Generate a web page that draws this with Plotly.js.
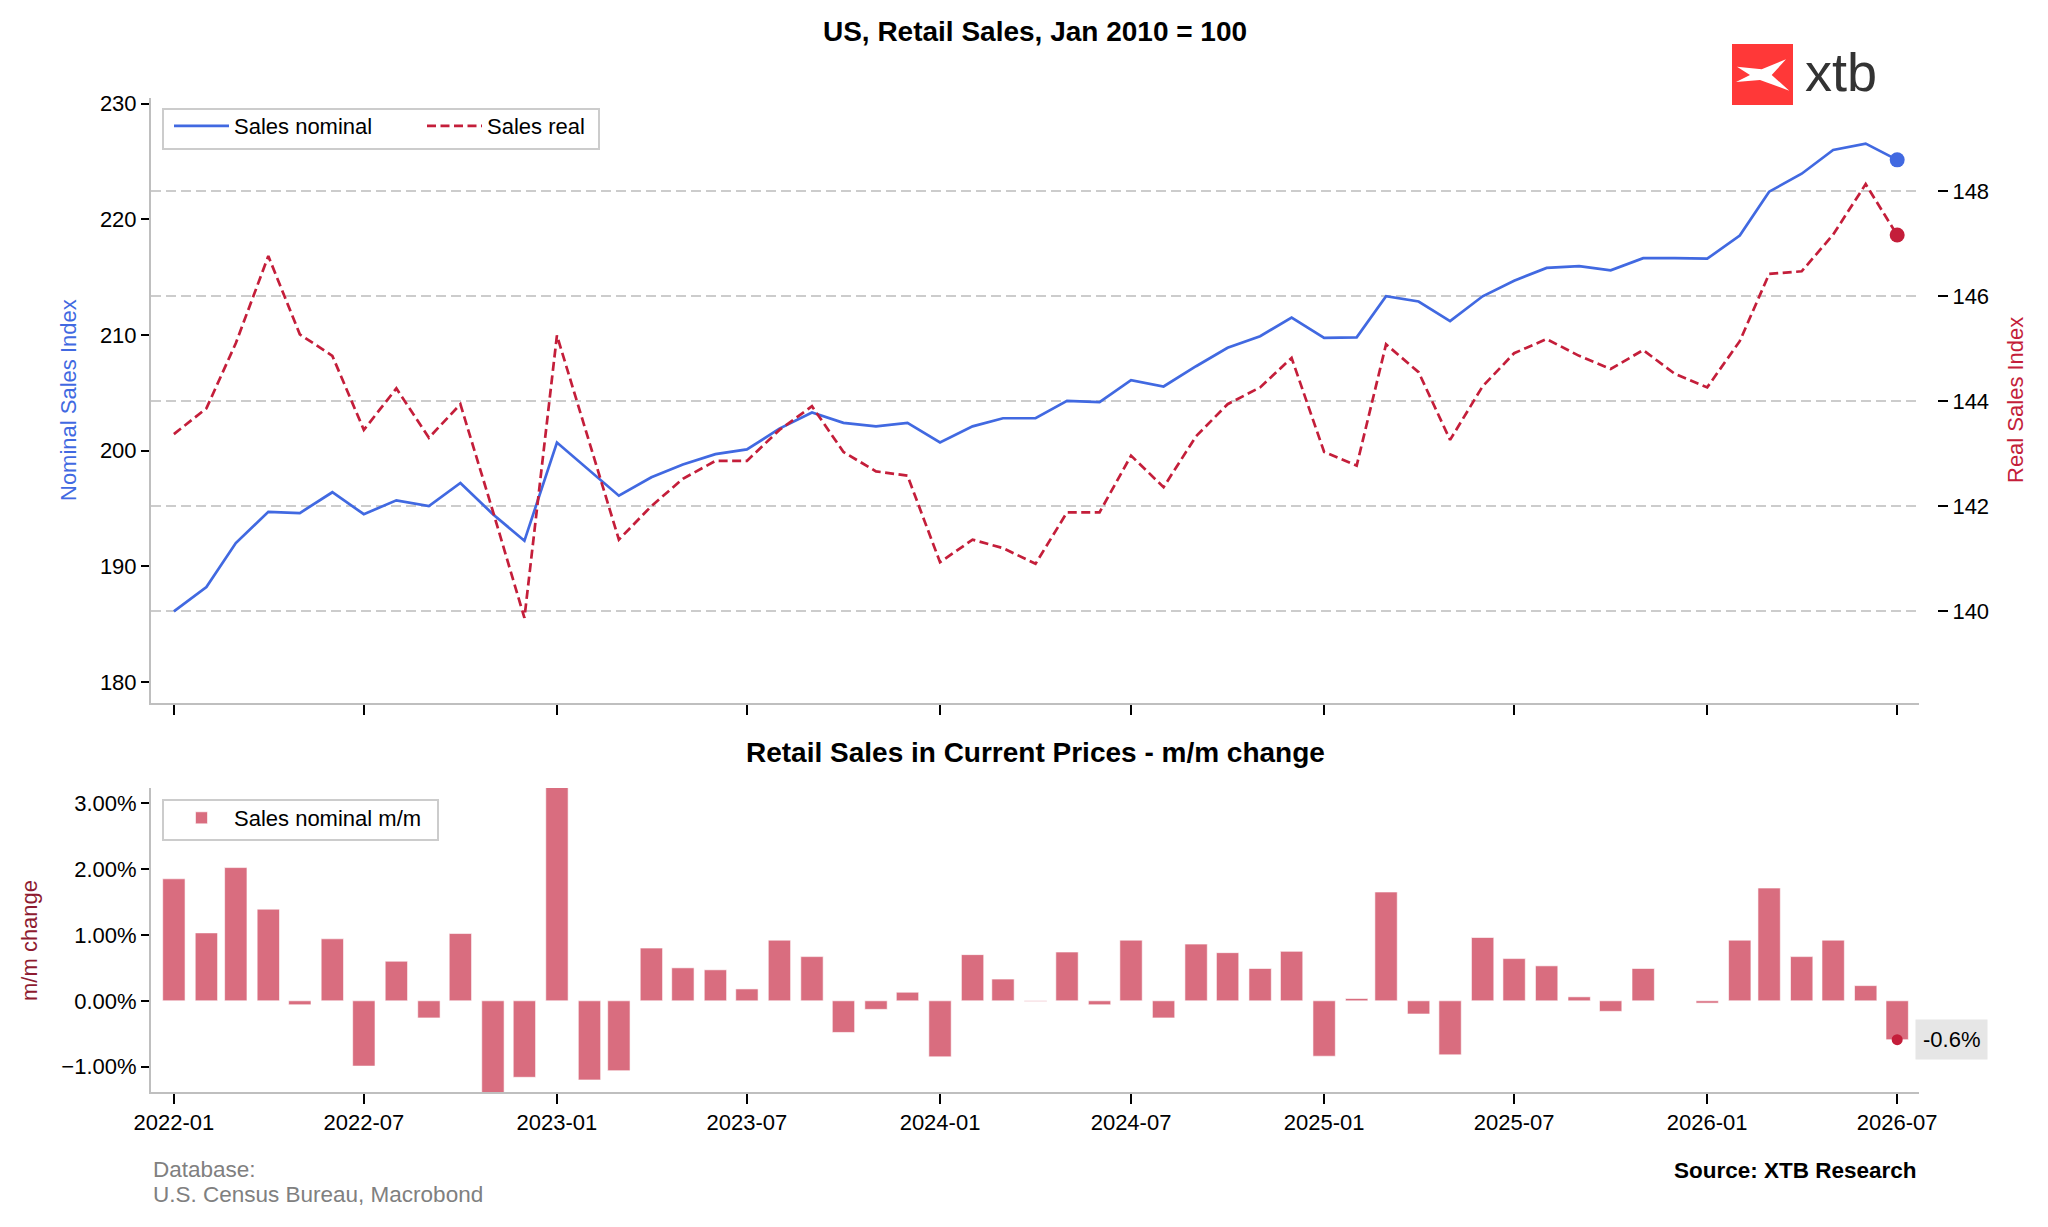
<!DOCTYPE html>
<html>
<head>
<meta charset="utf-8">
<script src="https://cdn.plot.ly/plotly-3.0.1.min.js"></script>
<style>
  body { margin: 0; background: #fff; }
  #chart { width: 2048px; height: 1227px; }
</style>
</head>
<body>
<div id="chart"></div>
<script>
// monthly observations
var months = [
  '2022-01-01','2022-02-01','2022-03-01','2022-04-01','2022-05-01','2022-06-01',
  '2022-07-01','2022-08-01','2022-09-01','2022-10-01','2022-11-01','2022-12-01',
  '2023-01-01','2023-02-01','2023-03-01','2023-04-01','2023-05-01','2023-06-01',
  '2023-07-01','2023-08-01','2023-09-01','2023-10-01','2023-11-01','2023-12-01',
  '2024-01-01','2024-02-01','2024-03-01','2024-04-01','2024-05-01','2024-06-01',
  '2024-07-01','2024-08-01','2024-09-01','2024-10-01','2024-11-01','2024-12-01',
  '2025-01-01','2025-02-01','2025-03-01','2025-04-01','2025-05-01','2025-06-01',
  '2025-07-01','2025-08-01','2025-09-01','2025-10-01','2025-11-01','2025-12-01',
  '2026-01-01','2026-02-01','2026-03-01','2026-04-01','2026-05-01','2026-06-01',
  '2026-07-01'
];

// nominal sales index (left axis)
var salesNominal = [
  186.1, 188.2, 192.0, 194.7, 194.6, 196.4, 194.5, 195.7, 195.2, 197.2,
  194.5, 192.2, 200.7, 198.3, 196.1, 197.7, 198.8, 199.7, 200.1, 201.9,
  203.3, 202.4, 202.1, 202.4, 200.7, 202.1, 202.8, 202.8, 204.3, 204.2,
  206.1, 205.55, 207.3, 208.9, 209.9, 211.5, 209.75, 209.8, 213.35, 212.9,
  211.2, 213.35, 214.7, 215.8, 215.95, 215.6, 216.65, 216.65, 216.6, 218.6,
  222.4, 223.95, 226.0, 226.55, 225.15
];

// real sales index (right axis)
var salesReal = [
  143.37, 143.86, 145.1, 146.76, 145.27, 144.86, 143.45, 144.24, 143.3, 143.94,
  141.9, 139.87, 145.25, 143.2, 141.36, 142.0, 142.52, 142.86, 142.86, 143.45,
  143.9, 143.03, 142.66, 142.58, 140.93, 141.36, 141.2, 140.9, 141.88, 141.88,
  142.96, 142.36, 143.33, 143.94, 144.26, 144.82, 143.03, 142.77, 145.08, 144.55,
  143.26, 144.28, 144.91, 145.18, 144.86, 144.61, 144.97, 144.52, 144.26, 145.14,
  146.42, 146.47, 147.17, 148.13, 147.16
];

// nominal m/m change, %
var nominalMoM = [
  1.85, 1.03, 2.02, 1.39, -0.06, 0.94, -0.99, 0.60, -0.26, 1.02,
  -1.45, -1.16, 3.4, -1.20, -1.06, 0.80, 0.50, 0.47, 0.18, 0.92,
  0.67, -0.48, -0.13, 0.13, -0.85, 0.70, 0.33, -0.01, 0.74, -0.06,
  0.92, -0.26, 0.86, 0.73, 0.49, 0.75, -0.84, 0.035, 1.65, -0.20,
  -0.82, 0.96, 0.64, 0.53, 0.06, -0.16, 0.49, 0.0, -0.035, 0.92,
  1.71, 0.67, 0.92, 0.23, -0.59
];

var last = months.length - 1;

var BLUE = '#4169E1';
var RED = '#C41E3A';
var FONT = 'Liberation Sans, Arial, sans-serif';

// pixel -> paper helpers (plot area 151..1919 x 98..1092)
var L = 151, R = 1919, T = 98, B = 1092;
function px(x) { return (x - L) / (R - L); }
function py(y) { return (B - y) / (B - T); }

var xRange = ['2021-12-10 05:00', '2026-07-21 19:00'];

var data = [
  {
    x: months, y: salesNominal, type: 'scatter', mode: 'lines',
    name: 'Sales nominal', xaxis: 'x', yaxis: 'y', legend: 'legend',
    line: {color: BLUE, width: 2.7}
  },
  {
    x: months, y: salesReal, type: 'scatter', mode: 'lines',
    name: 'Sales real', xaxis: 'x', yaxis: 'y2', legend: 'legend3',
    line: {color: RED, width: 2.7, dash: '9px,4.5px'}
  },
  {
    x: [months[last]], y: [salesNominal[last]], type: 'scatter', mode: 'markers',
    xaxis: 'x', yaxis: 'y', showlegend: false, cliponaxis: false,
    marker: {color: BLUE, size: 15}
  },
  {
    x: [months[last]], y: [salesReal[last]], type: 'scatter', mode: 'markers',
    xaxis: 'x', yaxis: 'y2', showlegend: false, cliponaxis: false,
    marker: {color: RED, size: 15}
  },
  {
    x: months, y: nominalMoM, type: 'bar', name: 'Sales nominal m/m',
    xaxis: 'x2', yaxis: 'y3', legend: 'legend2',
    width: 21.3 * 86400000,
    marker: {color: 'rgba(196,30,58,0.65)', line: {color: 'rgba(255,255,255,0.6)', width: 1}}
  },
  {
    x: [months[last]], y: [nominalMoM[last]], type: 'scatter', mode: 'markers',
    xaxis: 'x2', yaxis: 'y3', showlegend: false, cliponaxis: false,
    marker: {color: RED, size: 11}
  }
];

var tickFont = {family: FONT, size: 22, color: '#000'};
var spine = '#bfbfbf';

function legendAt(x, y) {
  return {
    orientation: 'h', x: px(x), y: py(y), xanchor: 'left', yanchor: 'top',
    bgcolor: 'rgba(0,0,0,0)', borderwidth: 0, itemwidth: 55,
    font: {family: FONT, size: 22, color: '#000'}
  };
}

var layout = {
  width: 2048, height: 1227,
  paper_bgcolor: '#fff', plot_bgcolor: '#fff',
  font: {family: FONT, size: 22, color: '#000'},
  margin: {l: L, r: 2048 - R, t: T, b: 1227 - B, pad: 0},
  showlegend: true,
  title: {
    text: '<b>US, Retail Sales, Jan 2010 = 100</b>',
    font: {family: FONT, size: 28, color: '#000'},
    x: 0.5, xref: 'paper', xanchor: 'center',
    y: 1 - 31 / 1227, yref: 'container', yanchor: 'middle'
  },
  xaxis: {
    type: 'date', range: xRange, anchor: 'y', domain: [0, 1],
    tick0: '2022-01-01', dtick: 'M6', showticklabels: false,
    ticks: 'outside', ticklen: 10, tickwidth: 2, tickcolor: '#000',
    showline: true, linecolor: spine, linewidth: 2,
    showgrid: false, zeroline: false
  },
  yaxis: {
    domain: [py(703), 1], anchor: 'x', range: [178.17, 230.5],
    tick0: 180, dtick: 10, tickfont: tickFont,
    ticks: 'outside', ticklen: 8, tickwidth: 2, tickcolor: '#000',
    showline: true, linecolor: spine, linewidth: 2,
    showgrid: false, zeroline: false
  },
  yaxis2: {
    overlaying: 'y', side: 'right', anchor: 'free', position: 1, shift: 18,
    range: [138.25, 149.77], tick0: 140, dtick: 2, tickfont: tickFont,
    ticks: 'outside', ticklen: 10, tickwidth: 2, tickcolor: '#000',
    showline: false, zeroline: false,
    showgrid: true, gridcolor: '#cccccc', gridwidth: 2, griddash: '10px,5px'
  },
  xaxis2: {
    type: 'date', range: xRange, anchor: 'y3', domain: [0, 1],
    tick0: '2022-01-01', dtick: 'M6', tickformat: '%Y-%m', tickfont: tickFont,
    ticks: 'outside', ticklen: 10, tickwidth: 2, tickcolor: '#000',
    showline: true, linecolor: spine, linewidth: 2,
    showgrid: false, zeroline: false
  },
  yaxis3: {
    domain: [0, py(788)], anchor: 'x2', range: [-1.383, 3.227],
    tick0: 0, dtick: 1, tickformat: '.2f', ticksuffix: '%', tickfont: tickFont,
    ticks: 'outside', ticklen: 8, tickwidth: 2, tickcolor: '#000',
    showline: true, linecolor: spine, linewidth: 2,
    showgrid: false, zeroline: false
  },
  legend: legendAt(169, 105),
  legend3: legendAt(422, 105),
  legend2: legendAt(169, 797),
  shapes: [
    // legend frames
    {type: 'rect', xref: 'paper', yref: 'paper', layer: 'above',
     x0: px(163), x1: px(599), y0: py(149), y1: py(109),
     fillcolor: 'rgba(255,255,255,0.85)', line: {color: '#cccccc', width: 2}},
    {type: 'rect', xref: 'paper', yref: 'paper', layer: 'above',
     x0: px(163), x1: px(438), y0: py(840), y1: py(800),
     fillcolor: 'rgba(255,255,255,0.85)', line: {color: '#cccccc', width: 2}},
    // xtb logo square
    {type: 'rect', xref: 'paper', yref: 'paper', layer: 'above',
     x0: px(1732), x1: px(1793), y0: py(105), y1: py(44),
     fillcolor: '#FF3838', line: {width: 0}},
    {type: 'path', xref: 'paper', yref: 'paper', layer: 'above',
     path: 'M' + px(1737) + ',' + py(66.7) +
           ' L' + px(1761.7) + ',' + py(69.3) +
           ' L' + px(1786) + ',' + py(59.3) +
           ' L' + px(1771.7) + ',' + py(75) +
           ' L' + px(1789.3) + ',' + py(90.7) +
           ' L' + px(1760) + ',' + py(80) +
           ' L' + px(1736) + ',' + py(82) +
           ' L' + px(1750) + ',' + py(75) + ' Z',
     fillcolor: '#fff', line: {width: 0}}
  ],
  annotations: [
    {text: '<b>Retail Sales in Current Prices - m/m change</b>', xref: 'paper', yref: 'paper',
     x: 0.5, y: py(752), xanchor: 'center', yanchor: 'middle', showarrow: false,
     font: {family: FONT, size: 28, color: '#000'}},
    {text: 'Nominal Sales Index', xref: 'paper', yref: 'paper', textangle: -90,
     x: px(68), y: py(400), xanchor: 'center', yanchor: 'middle', showarrow: false,
     font: {family: FONT, size: 22, color: BLUE}},
    {text: 'Real Sales Index', xref: 'paper', yref: 'paper', textangle: -90,
     x: px(2015), y: py(400), xanchor: 'center', yanchor: 'middle', showarrow: false,
     font: {family: FONT, size: 22, color: RED}},
    {text: 'm/m change', xref: 'paper', yref: 'paper', textangle: -90,
     x: px(29), y: py(940), xanchor: 'center', yanchor: 'middle', showarrow: false,
     font: {family: FONT, size: 22, color: '#8E1B30'}},
    {text: (nominalMoM[last]).toFixed(1) + '%', xref: 'paper', yref: 'y3',
     x: px(1915), y: nominalMoM[last], xanchor: 'left', yanchor: 'middle', showarrow: false,
     bgcolor: '#e6e6e6', borderpad: 7,
     font: {family: FONT, size: 22, color: '#000'}},
    {text: 'Database:', xref: 'paper', yref: 'paper',
     x: px(151), y: py(1169), xanchor: 'left', yanchor: 'middle', showarrow: false,
     font: {family: FONT, size: 22.5, color: '#808080'}},
    {text: 'U.S. Census Bureau, Macrobond', xref: 'paper', yref: 'paper',
     x: px(151), y: py(1194), xanchor: 'left', yanchor: 'middle', showarrow: false,
     font: {family: FONT, size: 22.5, color: '#808080'}},
    {text: '<b>Source: XTB Research</b>', xref: 'paper', yref: 'paper',
     x: 1, y: py(1170), xanchor: 'right', yanchor: 'middle', showarrow: false,
     font: {family: FONT, size: 22.5, color: '#000'}},
    {text: 'xtb', xref: 'paper', yref: 'paper',
     x: px(1803), y: py(72), xanchor: 'left', yanchor: 'middle', showarrow: false,
     font: {family: FONT, size: 54, color: '#333', weight: 500}}
  ]
};

Plotly.newPlot('chart', data, layout, {displayModeBar: false});
</script>
</body>
</html>
